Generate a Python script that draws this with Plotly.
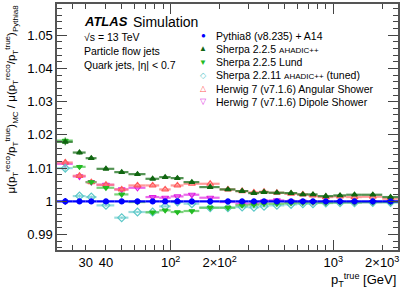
import plotly.graph_objects as go

bin_edges = [20, 25, 30, 35, 45, 55, 70, 85, 100, 120, 150, 200, 250, 300, 350,
             400, 500, 600, 700, 800, 1000, 1200, 1500, 2000, 2500]
pythia8 = [1.0] * 24
sherpa225_ahadic = [1.0179, 1.0147, 1.0130, 1.0098, 1.0088, 1.0082, 1.0068, 1.0073,
                    1.0070, 1.0058, 1.0043, 1.0036, 1.0031, 1.0025, 1.0028, 1.0026,
                    1.0025, 1.0021, 1.0021, 1.0016, 1.0018, 1.0020, 1.0020, 1.0013]
sherpa225_lund = [1.0183, 1.0104, 1.0058, 1.0041, 1.0021, 0.9998, 0.9967, 0.9973,
                  0.9968, 0.9971, 0.9981, 0.9981, 0.9988, 0.9990, 0.9993, 0.9993,
                  0.9995, 0.9996, 0.9997, 0.9996, 0.9997, 0.9997, 0.9998, 0.9998]
sherpa2211_tuned = [1.0100, 1.0016, 1.0013, 0.9988, 0.9951, 0.9968, 0.9968, 0.9985,
                    0.9998, 0.9993, 0.9981, 0.9981, 0.9983, 0.9982, 0.9985, 0.9988,
                    0.9991, 0.9993, 0.9993, 0.9995, 0.9996, 0.9996, 0.9997, 0.9997]
herwig_angular = [1.0117, 1.0077, 1.0058, 1.0050, 1.0036, 1.0048, 1.0048, 1.0036,
                  1.0048, 1.0053, 1.0053, 1.0036, 1.0031, 1.0027, 1.0029, 1.0026,
                  1.0023, 1.0021, 1.0018, 1.0013, 1.0015, 1.0013, 1.0014, 1.0008]
herwig_dipole = [1.0113, 1.0075, 1.0058, 1.0050, 1.0036, 1.0041, 1.0013, 1.0011,
                 1.0015, 1.0020, 1.0011, 0.9998, 0.9993, 0.9993, 1.0000, 1.0003,
                 0.9999, 0.9999, 0.9998, 0.9997, 0.9998, 0.9998, 0.9998, 0.9999]
stat_err = [0.0010, 0.0006, 0.0005, 0.0004, 0.0003, 0.0003, 0.0003, 0.0002,
            0.0002, 0.0002, 0.0002, 0.0002, 0.0002, 0.0002, 0.0002, 0.0002,
            0.0002, 0.0002, 0.0002, 0.0002, 0.0002, 0.0002, 0.0002, 0.0002]

x_tick_vals = [30, 40, 100, 200, 1000, 2000]
x_tick_text = ["30", "40", "10<sup>2</sup>", "2×10<sup>2</sup>", "10<sup>3</sup>", "2×10<sup>3</sup>"]
y_tick_vals = [0.99, 1.0, 1.01, 1.02, 1.03, 1.04, 1.05]
y_tick_text = ["0.99", "1", "1.01", "1.02", "1.03", "1.04", "1.05"]

legend_labels = [
    "Pythia8 (v8.235) + A14",
    "Sherpa 2.2.5 <span style='font-size:8px'>AHADIC++</span>",
    "Sherpa 2.2.5 Lund",
    "Sherpa 2.2.11 <span style='font-size:8px'>AHADIC++</span> (tuned)",
    "Herwig 7 (v7.1.6) Angular Shower",
    "Herwig 7 (v7.1.6) Dipole Shower",
]
legend_glyphs = ["●", "▲", "▼", "◇", "△", "▽"]

centers = [(a + b) / 2 for a, b in zip(bin_edges[:-1], bin_edges[1:])]
half_w = [(b - a) / 2 for a, b in zip(bin_edges[:-1], bin_edges[1:])]

# (values, colour, bar colour, symbol, size)
series = [
    (herwig_dipole, "#e020e0", "rgba(230,80,230,0.85)", "triangle-down-open", 6),
    (herwig_angular, "#ff5a5a", "rgba(255,120,120,0.75)", "triangle-up-open", 6),
    (sherpa2211_tuned, "#5cc8c8", "rgba(120,210,210,0.75)", "diamond-open", 6),
    (sherpa225_lund, "#22bb22", "rgba(90,200,90,0.8)", "triangle-down", 5),
    (sherpa225_ahadic, "#116611", "rgba(40,120,40,0.8)", "triangle-up", 5),
    (pythia8, "#0000ff", "rgba(0,0,255,1)", "circle", 5),
]

fig = go.Figure()
for vals, col, bar, sym, size in series:
    fig.add_trace(go.Scatter(
        x=centers, y=vals, mode="markers",
        marker=dict(symbol=sym, color=col, size=size, line=dict(color=col, width=1.2)),
        error_x=dict(type="data", array=half_w, color=bar, thickness=2.2, width=0),
        error_y=dict(type="data", array=stat_err, color=bar, thickness=1.5, width=0),
        showlegend=False,
    ))

W, H = 407, 292
L, R, T, B = 57, 9, 2, 42
pw, ph = W - L - R, H - T - B


def px(xp):
    return (xp - L) / pw


def py(yp):
    return (H - B - yp) / ph


ann = []
font = "Liberation Sans, Arial, Helvetica, sans-serif"
ann.append(dict(x=px(82), y=py(20), text="<b><i>ATLAS</i></b>", showarrow=False,
                xanchor="left", yanchor="middle", font=dict(size=13, color="black")))
ann.append(dict(x=px(131), y=py(20), text="Simulation", showarrow=False,
                xanchor="left", yanchor="middle", font=dict(size=14, color="black")))
info = ["√s = 13 TeV", "Particle flow jets", "Quark jets, |η| < 0.7"]
for i, t in enumerate(info):
    ann.append(dict(x=px(82), y=py(35 + 14 * i), text=t, showarrow=False,
                    xanchor="left", yanchor="middle", font=dict(size=10.5, color="black")))

glyph_cols = ["#0000ff", "#116611", "#22bb22", "#5cc8c8", "#ff5a5a", "#e020e0"]
for i, (g, t) in enumerate(zip(legend_glyphs, legend_labels)):
    yy = 34 + 13.3 * i
    ann.append(dict(x=px(203), y=py(yy), text=g, showarrow=False, xanchor="center",
                    yanchor="middle", font=dict(size=8, color=glyph_cols[i])))
    ann.append(dict(x=px(214), y=py(yy), text=t, showarrow=False, xanchor="left",
                    yanchor="middle", font=dict(size=10.5, color="black")))

ann.append(dict(x=px(11), y=py(1), textangle=-90, showarrow=False, xanchor="center", yanchor="top",
                text="μ(p<sub>T</sub><sup>reco</sup>/p<sub>T</sub><sup>true</sup>)<sub>MC</sub>"
                     " / μ(p<sub>T</sub><sup>reco</sup>/p<sub>T</sub><sup>true</sup>)<sub>Pythia8</sub>",
                font=dict(size=11.5, color="black")))
ann.append(dict(x=1.0, y=py(269), text="p<sub>T</sub><sup>true</sup> [GeV]", showarrow=False,
                xanchor="right", yanchor="top", font=dict(size=13, color="black")))

for a in ann:
    a["xref"] = "paper"
    a["yref"] = "paper"

fig.update_layout(
    width=W, height=H,
    margin=dict(l=L, r=R, t=T, b=B, pad=0),
    paper_bgcolor="white", plot_bgcolor="white",
    font=dict(family=font, color="black", size=13),
    annotations=ann,
    showlegend=False,
    xaxis=dict(
        type="log", range=[1.30103, 3.39794],
        tickvals=x_tick_vals, ticktext=x_tick_text,
        ticks="inside", ticklen=5, tickcolor="#444", tickwidth=1,
        showline=True, linecolor="#555", linewidth=1.5, mirror="ticks",
        showgrid=False, zeroline=False,
        tickfont=dict(size=13),
        minor=dict(ticks="inside", ticklen=5, tickcolor="#444",
                   tickvals=[20, 25, 50, 60, 70, 80, 90, 300, 400, 500, 600, 700, 800, 900],
                   showgrid=False),
    ),
    xaxis2=dict(
        type="log", range=[1.30103, 3.39794], overlaying="x", side="bottom",
        tickvals=[100, 1000], ticktext=["", ""], ticks="inside", ticklen=10,
        tickcolor="#444", tickwidth=1, showgrid=False, zeroline=False,
        showline=False, mirror="ticks", showticklabels=False,
    ),
    yaxis=dict(
        range=[0.98537, 1.0594],
        tickvals=y_tick_vals, ticktext=y_tick_text,
        ticks="inside", ticklen=10, tickcolor="#444", tickwidth=1,
        showline=True, linecolor="#555", linewidth=1.5, mirror="ticks",
        showgrid=False, zeroline=False,
        tickfont=dict(size=13),
        minor=dict(ticks="inside", ticklen=5, tickcolor="#444", dtick=0.002, showgrid=False),
    ),
)

fig.add_trace(go.Scatter(x=[], y=[], xaxis="x2", showlegend=False))

fig.write_html("out.html", config={"displayModeBar": False},
               post_script="document.body.style.margin='0px';")
